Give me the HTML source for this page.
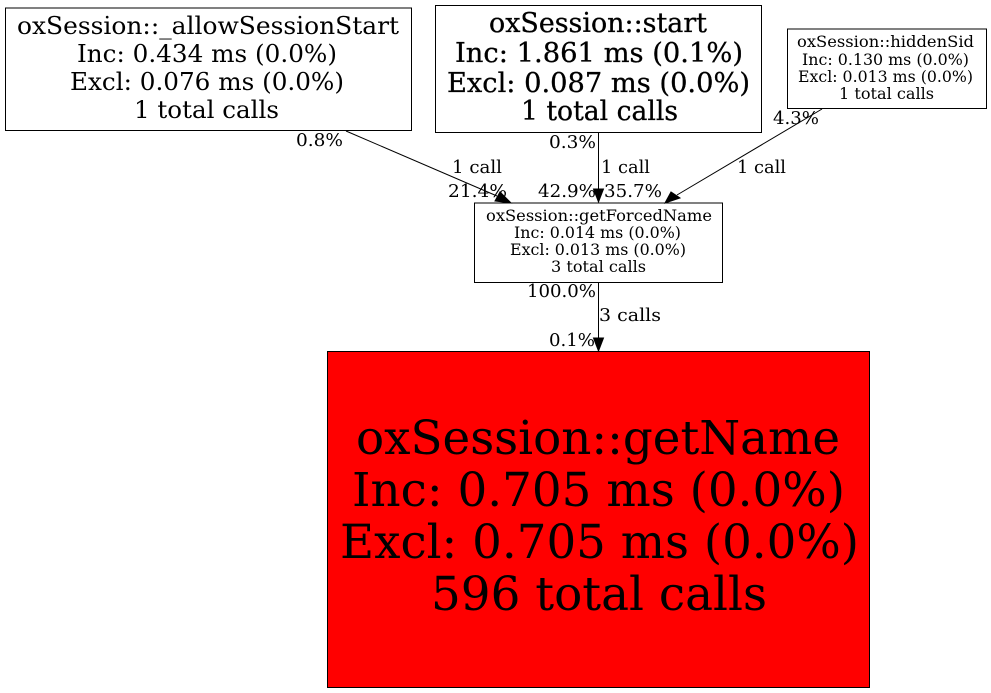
<!DOCTYPE html>
<html><head><meta charset="utf-8"><style>html,body{margin:0;padding:0;background:#fff}svg{display:block}text{font-family:"DejaVu Serif",serif;fill:#000;text-anchor:start}</style></head><body>
<svg width="991" height="693" viewBox="0 0 991 693" xmlns="http://www.w3.org/2000/svg">
<rect x="0" y="0" width="991" height="693" fill="#fff"/>
<g fill="none" stroke="#000" stroke-width="1">
<rect x="5.5" y="8" width="406" height="122.500"/>
<rect x="435.500" y="5.500" width="326" height="127"/>
<rect x="787.500" y="29" width="199" height="79.500"/>
<rect x="474.500" y="203" width="248" height="79.500"/>
<rect x="327.500" y="351.500" width="542" height="336" fill="#f00"/>
<path d="M346 131L497 196M598.500 133V190M822 109L677 195M598.500 283V339"/>
</g>
<g fill="#000" stroke="#000">
<polygon points="511,203 495,201 500,192"/>
<polygon points="598.500,202 593.500,189 603.500,189"/>
<polygon points="665,203 671,192 680,198"/>
<polygon points="598.500,351 593.500,338 603.500,338"/>
</g>
<g font-size="24.500">
<text x="17" y="34" textLength="382" lengthAdjust="spacingAndGlyphs">oxSession::_allowSessionStart</text>
<text x="77" y="62" textLength="260" lengthAdjust="spacingAndGlyphs">Inc: 0.434 ms (0.0%)</text>
<text x="70" y="90" textLength="274" lengthAdjust="spacingAndGlyphs">Excl: 0.076 ms (0.0%)</text>
<text x="134" y="118" textLength="145" lengthAdjust="spacingAndGlyphs">1 total calls</text>
</g>
<g font-size="27" style="stroke:#000;stroke-width:.3">
<text x="489" y="32" textLength="218" lengthAdjust="spacingAndGlyphs">oxSession::start</text>
<text x="455" y="62" textLength="288" lengthAdjust="spacingAndGlyphs">Inc: 1.861 ms (0.1%)</text>
<text x="447" y="92" textLength="303" lengthAdjust="spacingAndGlyphs">Excl: 0.087 ms (0.0%)</text>
<text x="521" y="120" textLength="157" lengthAdjust="spacingAndGlyphs">1 total calls</text>
</g>
<g font-size="16">
<text x="797" y="47" textLength="177" lengthAdjust="spacingAndGlyphs">oxSession::hiddenSid</text>
<text x="802" y="65" textLength="167" lengthAdjust="spacingAndGlyphs">Inc: 0.130 ms (0.0%)</text>
<text x="798" y="82" textLength="175" lengthAdjust="spacingAndGlyphs">Excl: 0.013 ms (0.0%)</text>
<text x="839" y="99" textLength="95" lengthAdjust="spacingAndGlyphs">1 total calls</text>
</g>
<g font-size="16">
<text x="486" y="221" textLength="226" lengthAdjust="spacingAndGlyphs">oxSession::getForcedName</text>
<text x="514" y="238" textLength="167" lengthAdjust="spacingAndGlyphs">Inc: 0.014 ms (0.0%)</text>
<text x="510" y="255" textLength="176" lengthAdjust="spacingAndGlyphs">Excl: 0.013 ms (0.0%)</text>
<text x="551" y="272" textLength="95" lengthAdjust="spacingAndGlyphs">3 total calls</text>
</g>
<g font-size="47">
<text x="356" y="454" textLength="484" lengthAdjust="spacingAndGlyphs">oxSession::getName</text>
<text x="352" y="506" textLength="493" lengthAdjust="spacingAndGlyphs">Inc: 0.705 ms (0.0%)</text>
<text x="340" y="558" textLength="519" lengthAdjust="spacingAndGlyphs">Excl: 0.705 ms (0.0%)</text>
<text x="431" y="610" textLength="336" lengthAdjust="spacingAndGlyphs">596 total calls</text>
</g>
<g font-size="18">
<text x="296" y="146" textLength="47" lengthAdjust="spacingAndGlyphs">0.8%</text>
<text x="452" y="173" textLength="50" lengthAdjust="spacingAndGlyphs">1 call</text>
<text x="448" y="197" textLength="59" lengthAdjust="spacingAndGlyphs">21.4%</text>
<text x="549" y="148" textLength="47" lengthAdjust="spacingAndGlyphs">0.3%</text>
<text x="601" y="173" textLength="49" lengthAdjust="spacingAndGlyphs">1 call</text>
<text x="538" y="197" textLength="58" lengthAdjust="spacingAndGlyphs">42.9%</text>
<text x="604" y="197" textLength="58" lengthAdjust="spacingAndGlyphs">35.7%</text>
<text x="773" y="124" textLength="46" lengthAdjust="spacingAndGlyphs">4.3%</text>
<text x="737" y="173" textLength="49" lengthAdjust="spacingAndGlyphs">1 call</text>
<text x="527" y="297" textLength="69" lengthAdjust="spacingAndGlyphs">100.0%</text>
<text x="599" y="321" textLength="62" lengthAdjust="spacingAndGlyphs">3 calls</text>
<text x="549" y="346" textLength="46" lengthAdjust="spacingAndGlyphs">0.1%</text>
</g>
</svg>
</body></html>
